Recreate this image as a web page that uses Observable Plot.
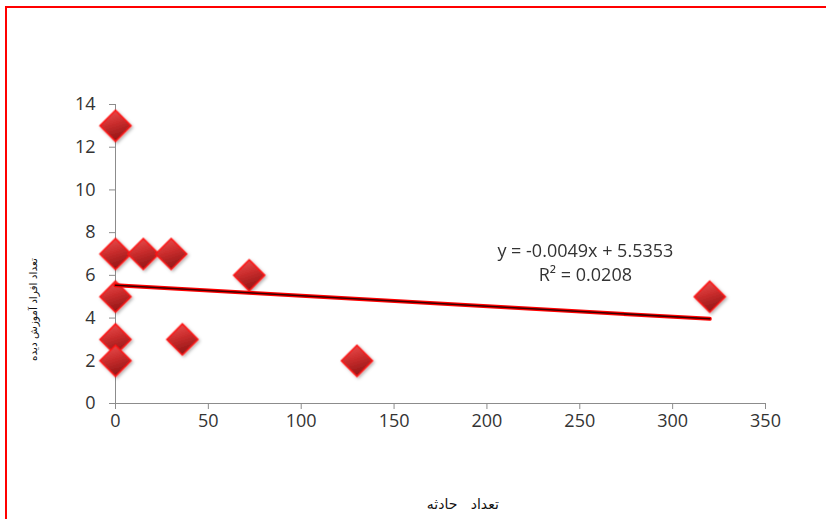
<!DOCTYPE html>
<html><head><meta charset="utf-8">
<script src="https://cdn.jsdelivr.net/npm/d3@7"></script>
<script src="https://cdn.jsdelivr.net/npm/@observablehq/plot@0.6"></script>
<style>
html,body{margin:0;padding:0;background:#fff;overflow:hidden;width:826px;height:519px;}
#frame{position:absolute;left:5px;top:6px;width:900px;height:600px;border:2px solid #ff0000;box-sizing:border-box;}
#chart{position:absolute;left:0;top:0;}
</style></head>
<body>
<div id="frame"></div>
<div id="chart"></div>
<script>
const accidents = [0, 0, 15, 30, 72, 0, 0, 36, 0, 130, 320];
const trained   = [13, 7, 7, 7, 6, 5, 3, 3, 2, 2, 5];
const xTicks = [0, 50, 100, 150, 200, 250, 300, 350];
const yTicks = [0, 2, 4, 6, 8, 10, 12, 14];
const slope = -0.0049, intercept = 5.5353;
const trendX = [0, 320];
const eqText = "y = -0.0049x + 5.5353";
const r2Text = "R\u00B2 = 0.0208";
const xLabel = "تعداد\u00A0\u00A0\u00A0حادثه";
const yLabel = "تعداد افراد آموزش دیده";

const points = accidents.map((x, i) => ({x, y: trained[i]}));
const trend = trendX.map(x => ({x, y: slope * x + intercept}));

const plot = Plot.plot({
  width: 826, height: 519,
  marginLeft: 115, marginRight: 61, marginTop: 104, marginBottom: 116,
  style: {fontFamily: "'Open Sans', sans-serif", fontSize: "18px", color: "#333", background: "transparent"},
  x: {domain: [0, 350], ticks: xTicks},
  y: {domain: [0, 14], ticks: yTicks},
  marks: [
    Plot.ruleX([0], {stroke: "#8c8c8c", strokeWidth: 1}),
    Plot.ruleY([0], {stroke: "#8c8c8c", strokeWidth: 1}),
    Plot.axisX({ticks: xTicks, tickSize: 6, tickPadding: 5, stroke: "#8c8c8c", label: null, fontSize: 18, fill: "#333"}),
    Plot.axisY({ticks: yTicks, tickSize: 6, tickPadding: 14, stroke: "#8c8c8c", label: null, fontSize: 18, fill: "#333"}),
    Plot.dot(points, {x: "x", y: "y", symbol: "diamond2", r: 14, fill: "url(#dgrad)", stroke: "#ff1414", strokeWidth: 1.5}),
    Plot.line(trend, {x: "x", y: "y", stroke: "#ff0000", strokeWidth: 4}),
    Plot.line(trend, {x: "x", y: "y", stroke: "#3a0000", strokeWidth: 1.6}),
    Plot.text([eqText], {x: 253, y: 7.15, text: d => d, fontSize: 18, letterSpacing: 0.6, fill: "#333", textAnchor: "middle"}),
    Plot.text([r2Text], {x: 253, y: 6.0, text: d => d, fontSize: 18, letterSpacing: 0.6, fill: "#333", textAnchor: "middle"}),
    Plot.text([yLabel], {x: -44, y: 4.4, rotate: -90, text: d => d, fontFamily: "DejaVu Sans", fontSize: 10.5, fill: "#111"}),
    Plot.text([xLabel], {x: 187, y: -4.75, text: d => d, fontFamily: "DejaVu Sans", fontSize: 14, fill: "#111"})
  ]
});

const svg = d3.select(plot);
const defs = svg.insert("defs", ":first-child");
const g = defs.append("linearGradient").attr("id", "dgrad").attr("x1", "0").attr("y1", "0").attr("x2", "0.3").attr("y2", "1");
g.append("stop").attr("offset", "0%").attr("stop-color", "#ec5454");
g.append("stop").attr("offset", "50%").attr("stop-color", "#cc2e2e");
g.append("stop").attr("offset", "100%").attr("stop-color", "#961818");
const f = defs.append("filter").attr("id", "dshadow").attr("x", "-50%").attr("y", "-50%").attr("width", "200%").attr("height", "200%");
f.append("feDropShadow").attr("dx", 1.5).attr("dy", 1.5).attr("stdDeviation", 1.5).attr("flood-color", "#000").attr("flood-opacity", 0.3);
svg.selectAll("g[fill='url(#dgrad)'], path[fill='url(#dgrad)']").attr("filter", "url(#dshadow)");
document.getElementById("chart").appendChild(plot);
</script>
</body></html>
